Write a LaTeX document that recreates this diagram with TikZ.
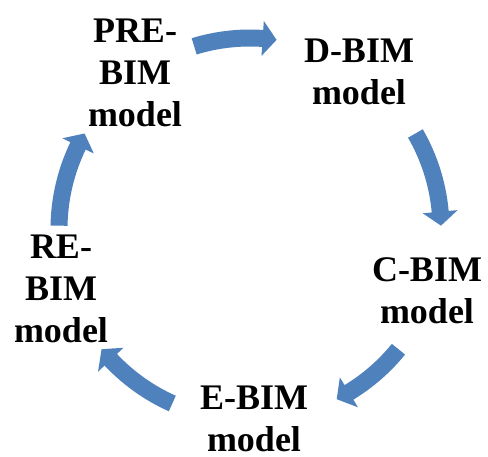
\documentclass[tikz,border=0pt]{standalone}
\usepackage{fontspec}
\setmainfont{Liberation Serif}
\usetikzlibrary{positioning,calc}

\definecolor{cycblue}{RGB}{79,129,189}

% curved block arrow on the cycle: #1 = tail angle, #2 = tip angle
\newcommand{\cycarrow}[2]{%
  \fill[cycblue] (#1:199.5) arc[start angle=#1, end angle=#2+4.2, radius=199.5pt]
    -- (#2+4.2:208.5) -- (#2:191) -- (#2+4.2:173.5) -- (#2+4.2:182.5)
    arc[start angle=#2+4.2, end angle=#1, radius=182.5pt] -- cycle;}

\begin{document}
\begin{tikzpicture}[x=1pt,y=1pt,
    stage/.style={align=center, inner sep=0pt,
      font=\bfseries\fontsize{36}{42}\selectfont}]
    \useasboundingbox (0,0) rectangle (488,-457);
    \coordinate (c) at (250,-229);

    \node[stage] (pre)   at (135,-73.3)  {PRE-\\BIM\\model};
    \node[stage] (dbim)  at (359,-72.3)  {D-BIM\\model};
    \node[stage] (cbim)  at (427,-290.9) {C-BIM\\model};
    \node[stage] (ebim)  at (254,-419.3) {E-BIM\\model};
    \node[stage] (rebim) at (61,-288.4)  {RE-\\BIM\\model};

    \begin{scope}[shift={(c)}]
      \cycarrow{107}{82}
      \cycarrow{30}{1}
      \cycarrow{-39}{-63}
      \cycarrow{-114}{-141}
      \cycarrow{179}{150}
    \end{scope}
  \end{tikzpicture}
\end{document}
